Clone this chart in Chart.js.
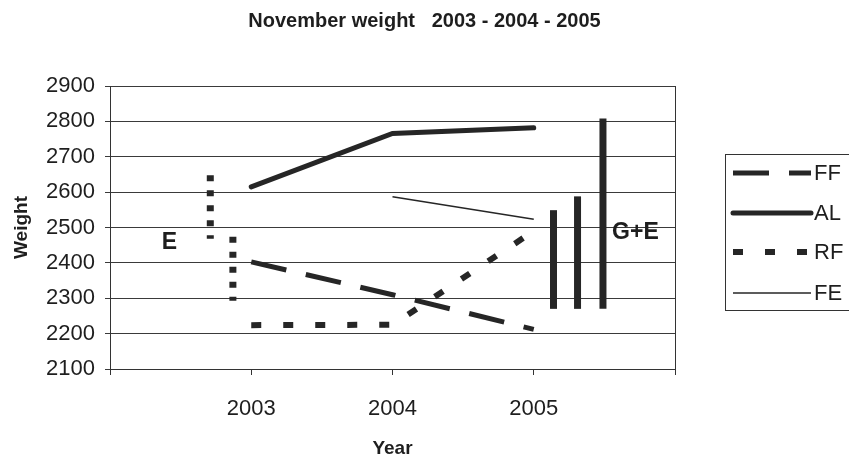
<!DOCTYPE html>
<html>
<head>
<meta charset="utf-8">
<title>November weight 2003 - 2004 - 2005</title>
<script src="https://cdn.jsdelivr.net/npm/chart.js@4.4.1/dist/chart.umd.min.js"></script>
<style>
  html, body { margin: 0; padding: 0; background: #fff; }
  #wrap { width: 849px; height: 457px; }
</style>
</head>
<body>
<div id="wrap"><canvas id="grafico" width="849" height="457"></canvas></div>
<script>
// valores
var years = [2003, 2004, 2005];
var ff = [2403, 2310, 2212];
var al = [2615, 2766, 2782];
var rf = [2224, 2225, 2490];
var fe = [null, 2587, 2523];

// barras verticais marcadas a mao (E e G+E)
var eBarX = [2002.71, 2002.87];
var eBarLow = [2468, 2293];
var eBarHigh = [2648, 2474];
var geBarX = [2005.14, 2005.31, 2005.49];
var geBarLow = [2270, 2270, 2270];
var geBarHigh = [2549, 2588, 2808];

var noteText = ['E', 'G+E'];
var noteX = [2002.42, 2005.72];
var noteY = [2456, 2486];

var yTicks = [2100, 2200, 2300, 2400, 2500, 2600, 2700, 2800, 2900];
var xLabels = [2003, 2004, 2005];

var ink = '#262626';
var fonte = '"Liberation Sans", Arial, sans-serif';

function pts(vals) {
    return years.map(function (y, i) { return { x: y, y: vals[i] }; });
}

var datasets = [
    { label: 'FF', data: pts(ff), borderColor: ink, borderWidth: 5, borderDash: [36, 20], borderCapStyle: 'butt' },
    { label: 'AL', data: pts(al), borderColor: ink, borderWidth: 5, borderCapStyle: 'round' },
    { label: 'RF', data: pts(rf), borderColor: ink, borderWidth: 6, borderDash: [10, 22], borderCapStyle: 'butt' },
    { label: 'FE', data: pts(fe), borderColor: ink, borderWidth: 1.5 }
];

eBarX.forEach(function (x, i) {
    datasets.push({
        label: 'bar',
        data: [{ x: x, y: eBarHigh[i] }, { x: x, y: eBarLow[i] }],
        borderColor: ink, borderWidth: 7, borderDash: [6, 9], borderCapStyle: 'butt'
    });
});
geBarX.forEach(function (x, i) {
    datasets.push({
        label: 'bar',
        data: [{ x: x, y: geBarLow[i] }, { x: x, y: geBarHigh[i] }],
        borderColor: ink, borderWidth: 7, borderCapStyle: 'butt'
    });
});

// textos E e G+E
var notesPlugin = {
    id: 'notes',
    afterDatasetsDraw: function (chart) {
        var ctx = chart.ctx;
        ctx.save();
        ctx.fillStyle = '#1e1e1e';
        ctx.font = 'bold 23px ' + fonte;
        ctx.textAlign = 'center';
        ctx.textBaseline = 'middle';
        noteText.forEach(function (t, i) {
            ctx.fillText(t, chart.scales.x.getPixelForValue(noteX[i]), chart.scales.y.getPixelForValue(noteY[i]));
        });
        ctx.restore();
    }
};

// legenda estilo Excel (caixa a direita)
var legendPlugin = {
    id: 'boxLegend',
    afterDraw: function (chart) {
        var ctx = chart.ctx;
        var left = 725, top = 154, bottom = 310;
        ctx.save();
        ctx.strokeStyle = '#333';
        ctx.lineWidth = 1;
        ctx.strokeRect(left + 0.5, top + 0.5, 200, bottom - top);
        var rows = [173, 213, 252, 293];
        chart.data.datasets.slice(0, 4).forEach(function (ds, i) {
            ctx.strokeStyle = ds.borderColor;
            ctx.lineWidth = ds.borderWidth;
            ctx.lineCap = ds.borderCapStyle || 'butt';
            ctx.setLineDash(ds.borderDash || []);
            ctx.beginPath();
            ctx.moveTo(733, rows[i]);
            ctx.lineTo(811, rows[i]);
            ctx.stroke();
            ctx.setLineDash([]);
            ctx.fillStyle = '#1e1e1e';
            ctx.font = '22px ' + fonte;
            ctx.textBaseline = 'middle';
            ctx.fillText(ds.label, 814, rows[i] + 1);
        });
        ctx.restore();
    }
};

var grafico = new Chart(document.getElementById('grafico').getContext('2d'), {
    type: 'line',
    data: { datasets: datasets },
    options: {
        responsive: false,
        animation: false,
        devicePixelRatio: 1,
        elements: { point: { radius: 0 }, line: { tension: 0 } },
        layout: { padding: 0 },
        plugins: {
            legend: { display: false },
            tooltip: { enabled: false },
            title: {
                display: true,
                text: 'November weight   2003 - 2004 - 2005',
                color: '#1e1e1e',
                font: { family: fonte, size: 20, weight: 'bold' },
                padding: { top: 9, bottom: 53 }
            }
        },
        scales: {
            x: {
                type: 'linear',
                min: 2002,
                max: 2006,
                afterFit: function (s) { s.height = 88; },
                afterBuildTicks: function (s) {
                    s.ticks = [2002].concat(xLabels, [2006]).map(function (v) { return { value: v }; });
                },
                ticks: {
                    color: '#1e1e1e',
                    padding: 21,
                    maxRotation: 0,
                    font: { family: fonte, size: 22 },
                    callback: function (v) { return xLabels.indexOf(v) >= 0 ? String(v) : ''; }
                },
                grid: { drawOnChartArea: false, drawTicks: true, tickLength: 6, color: '#333' },
                border: { display: true, color: '#333', width: 1 },
                title: {
                    display: true,
                    text: 'Year',
                    color: '#1e1e1e',
                    font: { family: fonte, size: 19, weight: 'bold' },
                    padding: { top: 0, bottom: -3 }
                }
            },
            y: {
                min: 2100,
                max: 2900,
                afterFit: function (s) { s.width = 110; },
                afterBuildTicks: function (s) {
                    s.ticks = yTicks.map(function (v) { return { value: v }; });
                },
                ticks: {
                    color: '#1e1e1e',
                    padding: 10,
                    font: { family: fonte, size: 22 },
                    callback: function (v) { return String(v); }
                },
                grid: { color: '#3a3a3a', lineWidth: 1, tickLength: 5 },
                border: { display: true, color: '#333', width: 1 },
                title: {
                    display: true,
                    text: 'Weight',
                    color: '#1e1e1e',
                    font: { family: fonte, size: 19, weight: 'bold' },
                    padding: { top: 10, bottom: 0 }
                }
            },
            y2: {
                position: 'right',
                min: 2100,
                max: 2900,
                afterFit: function (s) { s.width = 174; },
                ticks: { display: false },
                grid: { display: false },
                border: { display: true, color: '#333', width: 1 }
            }
        }
    },
    plugins: [notesPlugin, legendPlugin]
});
</script>
</body>
</html>
